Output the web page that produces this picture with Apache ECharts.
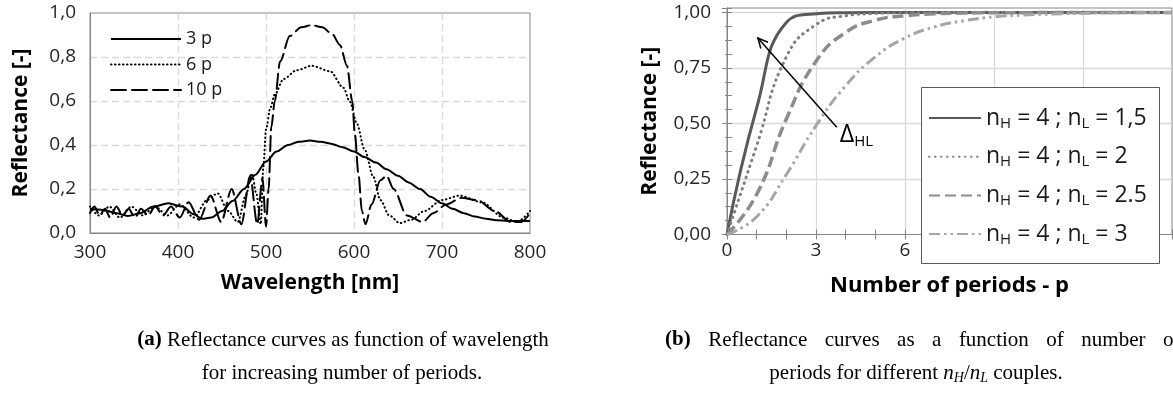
<!DOCTYPE html>
<html><head><meta charset="utf-8">
<script src="https://cdn.jsdelivr.net/npm/echarts@6/dist/echarts.min.js"></script>
<style>html,body{margin:0;padding:0;background:#fff}#c{width:1173px;height:396px}</style>
</head><body><div id="c"></div>
<script>
// ---------- Panel (a): reflectance vs wavelength ----------
const wlTicks = [300, 400, 500, 600, 700, 800];
const wl3p = [300,315,330,343,357,372,389,405,418,427,438,450,462,475,488,500,512,525,537,550,562,575,587,600,612,625,637,650,662,675,687,700,712,725,737,750,762,775,787,800];
const r3p  = [0.11,0.105,0.09,0.077,0.09,0.12,0.135,0.12,0.085,0.065,0.07,0.1,0.145,0.2,0.265,0.325,0.37,0.4,0.415,0.42,0.415,0.405,0.39,0.37,0.345,0.32,0.29,0.26,0.23,0.2,0.165,0.135,0.11,0.09,0.075,0.065,0.058,0.055,0.055,0.055];
const wl6p = [300,310,322,334,347,360,374,388,402,418,433,445,457,468,477,484,489,494,497,500,505,510,520,535,552,573,588,595,603,612,622,630,640,652,665,680,700,720,745,770,785,800];
const r6p  = [0.12,0.08,0.12,0.07,0.12,0.08,0.12,0.08,0.13,0.07,0.15,0.18,0.1,0.05,0.17,0.27,0.18,0.04,0.3,0.47,0.57,0.63,0.7,0.74,0.76,0.735,0.66,0.6,0.5,0.38,0.255,0.15,0.08,0.045,0.06,0.1,0.15,0.17,0.14,0.07,0.05,0.1];
const wl10p = [300,305,311,317,323,330,337,344,351,358,366,374,383,392,402,412,424,437,449,461,472,482,490,496,500,503,506,510,516,527,540,552,564,575,584,592,598,601,605,609,613,620,630,637,645,660,678,690,705,722,740,760,778,790,800];
const r10p  = [0.09,0.12,0.08,0.11,0.07,0.12,0.08,0.11,0.07,0.11,0.08,0.12,0.08,0.12,0.07,0.14,0.06,0.17,0.05,0.2,0.04,0.26,0.04,0.25,0.03,0.2,0.48,0.6,0.78,0.895,0.935,0.945,0.935,0.905,0.855,0.76,0.6,0.45,0.27,0.1,0.04,0.13,0.24,0.26,0.2,0.08,0.05,0.09,0.13,0.16,0.15,0.1,0.05,0.05,0.09];
const namesA = ['3 p', '6 p', '10 p'];

// ---------- Panel (b): reflectance vs number of periods ----------
const periods = [0,1,2,3,4,5,6,7,8,9,10,11,12,13,14,15];
const rNL15 = [0,0.57,0.955,0.994,0.999,1,1,1,1,1,1,1,1,1,1,1];
const rNL2  = [0,0.4,0.8,0.945,0.985,0.995,0.998,0.999,1,1,1,1,1,1,1,1];
const rNL25 = [0,0.18,0.52,0.78,0.91,0.965,0.985,0.994,0.997,0.999,0.999,1,1,1,1,1];
const rNL3  = [0,0.08,0.27,0.49,0.67,0.8,0.885,0.935,0.963,0.98,0.988,0.993,0.996,0.998,0.999,0.999];
const namesB = ['nL15', 'nL2', 'nL25', 'nL3'];
const nLLabels = ['1,5', '2', '2.5', '3'];

// ---------- captions ----------
const capA1 = 'Reflectance curves as function of wavelength';
const capA2 = 'for increasing number of periods.';
const capB1Words = ['Reflectance', 'curves', 'as', 'a', 'function', 'of', 'number', 'of'];

const FONT = 'Open Sans';
const zip = (xs, ys) => xs.map((x, i) => [x, ys[i]]);

const chart = echarts.init(document.getElementById('c'));

const lineA = (name, xs, ys, type) => ({
  name, type: 'line', xAxisIndex: 0, yAxisIndex: 0, data: zip(xs, ys),
  smooth: 0.3, smoothMonotone: 'x', symbol: 'none', z: 2,
  lineStyle: { color: '#000', width: 2, type, cap: type === 'solid' ? 'butt' : 'round' }
});
const lineB = (name, ys, color, width, type, cap) => ({
  name, type: 'line', xAxisIndex: 1, yAxisIndex: 1, data: zip(periods, ys),
  smooth: 0.5, symbol: 'none', z: 2, clip: true,
  lineStyle: { color, width, type, cap: cap || 'butt' }
});

const option = {
  animation: false,
  backgroundColor: '#fff',
  textStyle: { fontFamily: FONT },
  grid: [
    { left: 90, top: 13, width: 440, height: 220, show: true, borderColor: '#868686', borderWidth: 1, backgroundColor: 'transparent' },
    { left: 727, top: 8, width: 445, height: 226.5, show: true, borderColor: '#868686', borderWidth: 1, backgroundColor: 'transparent' }
  ],
  xAxis: [
    { type: 'value', gridIndex: 0, min: 300, max: 800, interval: 100,
      axisLine: { show: true, lineStyle: { color: '#868686' } }, axisTick: { show: false },
      axisLabel: { fontSize: 19, color: '#262626', margin: 10, fontFamily: FONT },
      splitLine: { show: true, showMinLine: false, showMaxLine: false, lineStyle: { color: '#d9d9d9', width: 1.3, type: [7, 4] } },
      name: 'Wavelength [nm]', nameLocation: 'middle', nameGap: 40,
      nameTextStyle: { fontSize: 21, fontWeight: 'bold', color: '#000', fontFamily: FONT } },
    { type: 'value', gridIndex: 1, min: 0, max: 15, interval: 3,
      axisLine: { show: true, lineStyle: { color: '#868686' } },
      axisTick: { show: true, inside: true, length: 5, lineStyle: { color: '#868686' } },
      minorTick: { show: true, splitNumber: 3, length: 5, lineStyle: { color: '#868686' } },
      axisLabel: { fontSize: 19, color: '#262626', margin: 7, fontFamily: FONT, showMaxLabel: false },
      splitLine: { show: true, showMinLine: false, showMaxLine: false, lineStyle: { color: '#d9d9d9', width: 1.3 } },
      name: 'Number of periods - p', nameLocation: 'middle', nameGap: 40,
      nameTextStyle: { fontSize: 22, fontWeight: 'bold', color: '#000', fontFamily: FONT } },
    { type: 'value', gridIndex: 1, position: 'top', min: 0, max: 15, interval: 3,
      axisLine: { show: true, lineStyle: { color: '#868686' } },
      axisTick: { show: true, inside: true, length: 5, lineStyle: { color: '#868686' } },
      minorTick: { show: true, splitNumber: 3, length: 5, lineStyle: { color: '#868686' } },
      axisLabel: { show: false }, splitLine: { show: false } }
  ],
  yAxis: [
    { type: 'value', gridIndex: 0, min: 0, max: 1, interval: 0.2,
      axisLine: { show: true, lineStyle: { color: '#868686' } }, axisTick: { show: false },
      axisLabel: { fontSize: 19, color: '#262626', margin: 14, fontFamily: FONT,
        formatter: v => v.toFixed(1).replace('.', ',') },
      splitLine: { show: true, showMinLine: false, showMaxLine: false, lineStyle: { color: '#d9d9d9', width: 1.3, type: [7, 4] } },
      name: 'Reflectance [-]', nameLocation: 'middle', nameGap: 58,
      nameTextStyle: { fontSize: 21, fontWeight: 'bold', color: '#000', fontFamily: FONT } },
    { type: 'value', gridIndex: 1, min: 0, max: 1.02, interval: 0.25,
      axisLine: { show: true, lineStyle: { color: '#868686' } },
      axisTick: { show: true, inside: true, length: 5, lineStyle: { color: '#868686' } },
      minorTick: { show: true, splitNumber: 4, length: 5, lineStyle: { color: '#868686' } },
      axisLabel: { fontSize: 19, color: '#262626', margin: 16, fontFamily: FONT,
        formatter: v => (Math.abs(v / 0.25 - Math.round(v / 0.25)) < 1e-6 ? v.toFixed(2).replace('.', ',') : '') },
      splitLine: { show: true, showMinLine: false, showMaxLine: false, lineStyle: { color: '#d9d9d9', width: 1.3 } },
      name: 'Reflectance [-]', nameLocation: 'middle', nameGap: 66,
      nameTextStyle: { fontSize: 21, fontWeight: 'bold', color: '#000', fontFamily: FONT } },
    { type: 'value', gridIndex: 1, position: 'right', min: 0, max: 1.02, interval: 0.25,
      axisLine: { show: true, lineStyle: { color: '#868686' } },
      axisTick: { show: true, inside: true, length: 5, lineStyle: { color: '#868686' } },
      minorTick: { show: true, splitNumber: 4, length: 2, lineStyle: { color: '#868686' } },
      axisLabel: { show: false }, splitLine: { show: false } }
  ],
  legend: [
    { data: namesA, orient: 'vertical', left: 110, top: 29, padding: 0,
      itemWidth: 70, itemHeight: 20, itemGap: 5.5, itemTextGap: 15,
      itemStyle: { opacity: 0 },
      textStyle: { fontSize: 18, lineHeight: 20, color: '#1a1a1a', fontFamily: FONT } },
    { data: namesB, orient: 'vertical', left: 928, top: 105, padding: 0, z: 10,
      itemWidth: 52, itemHeight: 26, itemGap: 12.7, itemTextGap: 7,
      itemStyle: { opacity: 0 },
      formatter: name => 'n{s|H} = 4 ; n{s|L} = ' + nLLabels[namesB.indexOf(name)],
      textStyle: { fontSize: 23, lineHeight: 26, color: '#1a1a1a', fontFamily: FONT,
        rich: { s: { fontSize: 15, lineHeight: 14, verticalAlign: 'bottom', color: '#1a1a1a', fontFamily: FONT } } } }
  ],
  series: [
    lineA(namesA[0], wl3p, r3p, 'solid'),
    lineA(namesA[1], wl6p, r6p, [0.5, 3.5]),
    lineA(namesA[2], wl10p, r10p, [15, 6]),
    lineB(namesB[0], rNL15, '#595959', 3, 'solid'),
    lineB(namesB[1], rNL2, '#7f7f7f', 3, [0.5, 5.5], 'round'),
    lineB(namesB[2], rNL25, '#8c8c8c', 3.5, [11, 5]),
    lineB(namesB[3], rNL3, '#a6a6a6', 3, [11, 4, 2.5, 4, 2.5, 4])
  ]
};
chart.setOption(option);

// annotation arrow (ΔHL) defined in data coordinates of panel (b)
const arrowFrom = [3.7, 0.483];
const arrowTo = [1.04, 0.885];
const a0 = chart.convertToPixel({ gridIndex: 1 }, arrowFrom);
const a1 = chart.convertToPixel({ gridIndex: 1 }, arrowTo);
const ang = Math.atan2(a0[1] - a1[1], a0[0] - a1[0]);
const hl = 11, hw = 0.45;
const h1 = [a1[0] + hl * Math.cos(ang + hw), a1[1] + hl * Math.sin(ang + hw)];
const h2 = [a1[0] + hl * Math.cos(ang - hw), a1[1] + hl * Math.sin(ang - hw)];

const serif = 'Liberation Serif';
const capB1Rich = '{b|(b)}{g| }' + capB1Words.join('{g| }');
chart.setOption({
  graphic: [
    { type: 'rect', z: 3, shape: { x: 921.5, y: 87.5, width: 238, height: 176 },
      style: { fill: '#fff', stroke: '#595959', lineWidth: 1 } },
    { type: 'line', z: 5, shape: { x1: a0[0], y1: a0[1], x2: a1[0], y2: a1[1] }, style: { stroke: '#000', lineWidth: 1.5 } },
    { type: 'polyline', z: 5, shape: { points: [h1, a1, h2] }, style: { stroke: '#000', lineWidth: 1.5, fill: null } },
    { type: 'text', z: 5, x: a0[0] + 3, y: a0[1] + 8,
      style: { text: '{d|Δ}{s|HL}', verticalAlign: 'middle',
        rich: { d: { fontSize: 25, fontFamily: FONT, fill: '#000', lineHeight: 28 },
                s: { fontSize: 15, fontFamily: FONT, fill: '#000', lineHeight: 15, verticalAlign: 'bottom' } } } },
    { type: 'text', x: 343, y: 340,
      style: { text: '{b|(a)} ' + capA1, textAlign: 'center', verticalAlign: 'middle',
        font: '21px "' + serif + '"', fill: '#000',
        rich: { b: { fontSize: 21, fontWeight: 'bold', fontFamily: serif, fill: '#000' } } } },
    { type: 'text', x: 342, y: 373,
      style: { text: capA2, textAlign: 'center', verticalAlign: 'middle',
        font: '21px "' + serif + '"', fill: '#000' } },
    { type: 'text', x: 665, y: 340,
      style: { text: capB1Rich, textAlign: 'left', verticalAlign: 'middle',
        font: '21px "' + serif + '"', fill: '#000',
        rich: { b: { fontSize: 21, fontWeight: 'bold', fontFamily: serif, fill: '#000' },
                g: { width: 17.5, fontSize: 21, fontFamily: serif } } } },
    { type: 'text', x: 916, y: 373,
      style: { text: 'periods for different {i|n}{s|H}{t|/}{i|n}{s|L} couples.', textAlign: 'center', verticalAlign: 'middle',
        font: '21px "' + serif + '"', fill: '#000',
        rich: { i: { fontSize: 21, fontStyle: 'italic', fontFamily: serif, fill: '#000', lineHeight: 24 },
                t: { fontSize: 21, fontFamily: serif, fill: '#000', lineHeight: 24 },
                s: { fontSize: 14, fontStyle: 'italic', fontFamily: serif, fill: '#000', lineHeight: 12, verticalAlign: 'bottom' } } } }
  ]
});
</script>
</body></html>
